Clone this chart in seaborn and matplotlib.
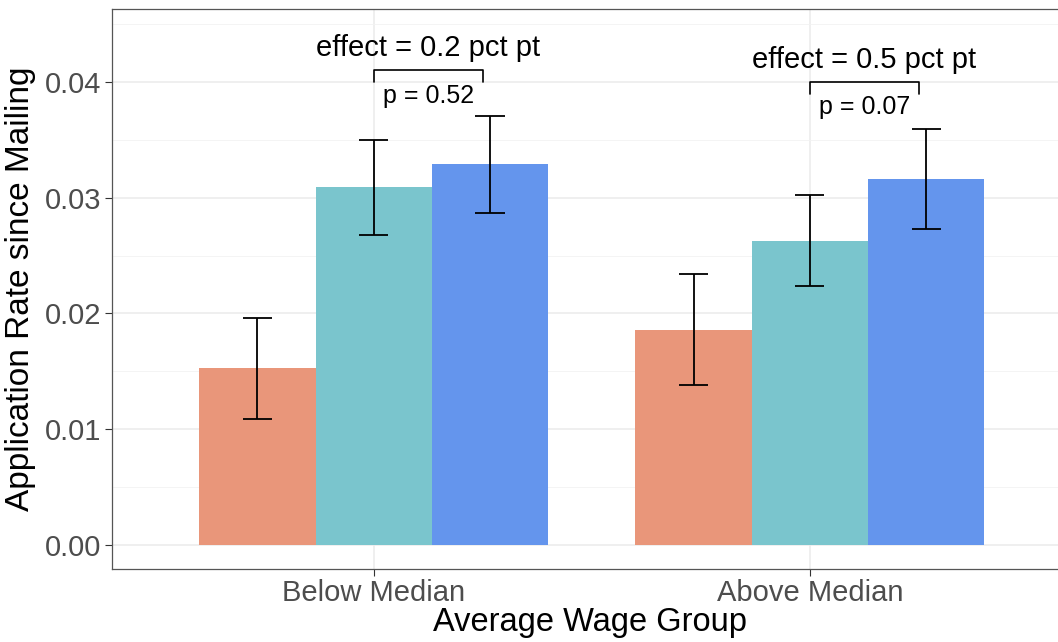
import numpy as np
import pandas as pd
import matplotlib
matplotlib.use("Agg")
import matplotlib.pyplot as plt
from matplotlib.ticker import MultipleLocator, FormatStrFormatter
import seaborn as sns

# ---- data -------------------------------------------------------------
groups = ["Below Median", "Above Median"]
arms = ["Control", "Standard Letter", "Enhanced Letter"]
rate_below = [0.0153, 0.0309, 0.0329]
rate_above = [0.0186, 0.0263, 0.0316]
lo_below = [0.0109, 0.0268, 0.0287]
hi_below = [0.0196, 0.0350, 0.0371]
lo_above = [0.0138, 0.0224, 0.0273]
hi_above = [0.0234, 0.0302, 0.0359]
effect_labels = ["effect = 0.2 pct pt", "effect = 0.5 pct pt"]
p_labels = ["p = 0.52", "p = 0.07"]
bracket_tops = [0.0410, 0.0400]
arm_colors = ["#E9967A", "#7AC5CD", "#6495ED"]

rows = []
for g, rates, los, his in [(groups[0], rate_below, lo_below, hi_below),
                           (groups[1], rate_above, lo_above, hi_above)]:
    for a, r, lo, hi in zip(arms, rates, los, his):
        rows.append({"group": g, "arm": a, "rate": r, "lo": lo, "hi": hi})
df = pd.DataFrame(rows)

# ---- style ------------------------------------------------------------
sns.set_style("white")
plt.rcParams["font.family"] = ["Liberation Sans", "DejaVu Sans"]

fig = plt.figure(figsize=(10.58, 6.42), dpi=100)
ax = fig.add_axes([112 / 1058, 73 / 642, 959.6 / 1058, 560 / 642])

sns.barplot(data=df, x="group", y="rate", hue="arm", order=groups,
            hue_order=arms, palette=arm_colors, errorbar=None, width=0.8,
            saturation=1, linewidth=0, legend=False, ax=ax, zorder=2)

# error bars at the centre of each bar
for container, arm in zip(ax.containers, arms):
    sub = df[df["arm"] == arm].set_index("group").loc[groups]
    xs = [b.get_x() + b.get_width() / 2 for b in container]
    width = container[0].get_width()
    ax.errorbar(xs, sub["rate"], yerr=[sub["rate"] - sub["lo"], sub["hi"] - sub["rate"]],
                fmt="none", ecolor="black", elinewidth=1.3, capsize=0, zorder=3)
    for x, lo, hi in zip(xs, sub["lo"], sub["hi"]):
        for yv in (lo, hi):
            ax.plot([x - width * 0.125, x + width * 0.125], [yv, yv],
                    color="black", lw=1.3, zorder=3, solid_capstyle="butt")

# comparison brackets between the two letter arms
for i, (top, eff, pl) in enumerate(zip(bracket_tops, effect_labels, p_labels)):
    x0, x1 = i, i + 0.25
    ax.plot([x0, x0, x1, x1], [top - 0.001, top, top, top - 0.001],
            color="black", lw=1.2, zorder=4)
    ax.text((x0 + x1) / 2, top + 0.0019, eff, ha="center", va="center",
            fontsize=21, color="black")
    ax.text((x0 + x1) / 2, top - 0.0022, pl, ha="center", va="center",
            fontsize=18, color="black")

# ---- axes -------------------------------------------------------------
ax.set_xlim(-0.6, 1.6)
ax.set_ylim(-0.00207, 0.0463)
ax.yaxis.set_major_locator(MultipleLocator(0.01))
ax.yaxis.set_minor_locator(MultipleLocator(0.005))
ax.yaxis.set_major_formatter(FormatStrFormatter("%.2f"))
ax.grid(True, which="major", color="#EBEBEB", lw=1.1, zorder=0)
ax.grid(True, which="minor", axis="y", color="#F2F2F2", lw=0.6, zorder=0)
ax.set_axisbelow(True)

ax.tick_params(axis="both", which="major", length=5, width=0.8, color="#333333",
               labelsize=21, labelcolor="#4D4D4D", pad=3, left=True, bottom=True)
ax.tick_params(axis="x", labelsize=21, pad=2)
ax.tick_params(which="minor", length=0)
for side in ["left", "bottom", "top", "right"]:
    ax.spines[side].set_color("#555555")
    ax.spines[side].set_linewidth(0.9)

ax.set_xlabel("Average Wage Group", fontsize=23.5, color="black", va="center")
ax.xaxis.set_label_coords(590 / 1058, 1 - 622 / 642, transform=fig.transFigure)
ax.set_ylabel("Application Rate since Mailing", fontsize=24, color="black", labelpad=6)

fig.savefig("out.png", dpi=100)
